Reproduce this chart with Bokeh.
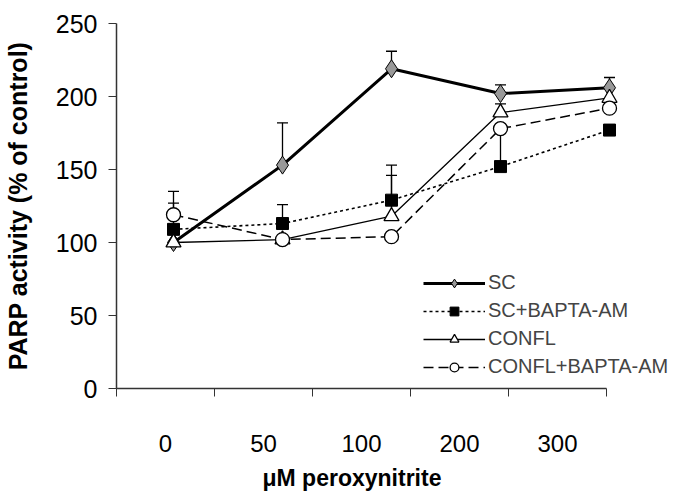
from bokeh.plotting import figure
from bokeh.models import (Range1d, FixedTicker, SingleIntervalTicker, ColumnDataSource,
                          Whisker, TeeHead, Legend, LegendItem, Title)
from bokeh.embed import file_html
from bokeh.resources import INLINE

# ---- data ----
doses = ["0", "50", "100", "200", "300"]
sc = [100, 153, 219, 202, 206]
sc_err = [0, 29, 12, 6, 7]
scb = [109, 113, 129, 152, 177]
scb_err = [18, 13, 24, 27, 0]
confl = [100, 102, 118, 189, 199]
confl_err = [0, 0, 28, 6, 0]
conflb = [119, 102, 104, 178, 192]
conflb_err = [16, 0, 0, 0, 3]

FONT = "Liberation Sans"

W, H = 685, 498
BL, BR, BT, BB = 116, 7, 23, 108
frame_w = W - BL - BR
CAT_PX = 98.0   # pixel width of one axis category
PT_PX = 109.0   # pixel spacing of the plotted points
PT0 = -57.0 / PT_PX  # offset of first point from the frame's left edge

p = figure(width=W, height=H, output_backend="svg", toolbar_location=None,
           x_range=Range1d(0, frame_w / CAT_PX), y_range=Range1d(0, 250),
           min_border_left=BL, min_border_right=BR, min_border_top=BT,
           min_border_bottom=BB)
p.extra_x_ranges = {"pts": Range1d(PT0, PT0 + frame_w / PT_PX)}
p.outline_line_color = None
p.xgrid.visible = False
p.ygrid.visible = False

xs = list(range(len(doses)))

series = [
    ("SC", sc, sc_err, dict(line_width=3, line_dash="solid"),
     dict(marker="diamond", size=18, fill_color="#999999", line_color="black", line_width=1)),
    ("SC+BAPTA-AM", scb, scb_err, dict(line_width=1.6, line_dash="3 3"),
     dict(marker="square", size=12, fill_color="black", line_color="black", line_width=1)),
    ("CONFL", confl, confl_err, dict(line_width=1.3, line_dash="solid"),
     dict(marker="triangle", size=15, fill_color="white", line_color="black", line_width=1.3)),
    ("CONFL+BAPTA-AM", conflb, conflb_err, dict(line_width=1.5, line_dash="10 5"),
     dict(marker="circle", size=14, fill_color="white", line_color="black", line_width=1.3)),
]

# error bars (upper only)
for name, ys, errs, lk, mk in series:
    bx = [x for x, e in zip(xs, errs) if e > 0]
    by = [y for y, e in zip(ys, errs) if e > 0]
    bu = [y + e for y, e in zip(ys, errs) if e > 0]
    src = ColumnDataSource(dict(x=bx, lower=by, upper=bu))
    w = Whisker(base="x", lower="lower", upper="upper", source=src, dimension="height",
                upper_head=TeeHead(size=11, line_width=1.3, line_color="black"),
                lower_head=None, line_width=1.3, line_color="black",
                x_range_name="pts", level="underlay")
    p.add_layout(w)

line_rs = []
for name, ys, errs, lk, mk in series:
    r = p.line(xs, ys, line_color="black", x_range_name="pts", **lk)
    line_rs.append(r)

items = []
for (name, ys, errs, lk, mk), lr in zip(series, line_rs):
    m = p.scatter(xs, ys, x_range_name="pts", **mk)
    items.append(LegendItem(label=name, renderers=[lr, m]))

legend = Legend(items=items, location=(307, 10), border_line_color=None,
                background_fill_alpha=0, padding=0, margin=0, spacing=5,
                glyph_width=62, glyph_height=22, label_height=22, label_standoff=3,
                label_text_font=FONT, label_text_font_size="20px")
p.add_layout(legend)

# x axis
xa = p.xaxis[0]
xa.bounds = (0, len(doses))
xa.ticker = FixedTicker(ticks=[i + 0.5 for i in range(len(doses))],
                        minor_ticks=list(range(len(doses) + 1)))
xa.major_label_overrides = {i + 0.5: d for i, d in enumerate(doses)}
xa.major_tick_out = 0
xa.major_tick_in = 0
xa.minor_tick_out = 8
xa.minor_tick_in = 0
xa.minor_tick_line_color = "#333333"
xa.axis_line_color = "#333333"
xa.axis_line_width = 1.5
xa.major_label_standoff = 38
xa.major_label_text_font = FONT
xa.major_label_text_font_size = "24px"
xa.major_label_text_color = "black"

# x axis title, centred under the axis itself (not the wider frame)
xt = Title(text="\u03bcM peroxynitrite", align="left", offset=146, standoff=16,
           text_font=FONT, text_font_style="bold", text_font_size="23px",
           text_color="black")
p.add_layout(xt, "below")

# y axis
ya = p.yaxis[0]
ya.ticker = SingleIntervalTicker(interval=50, num_minor_ticks=0)
ya.major_tick_out = 8
ya.major_tick_in = 0
ya.minor_tick_out = 0
ya.major_tick_line_color = "#333333"
ya.axis_line_color = "#333333"
ya.axis_line_width = 1.5
ya.major_label_standoff = 11
ya.major_label_text_font = FONT
ya.major_label_text_font_size = "25px"
ya.major_label_text_color = "black"
ya.axis_label = "PARP activity (% of control)"
ya.axis_label_text_font = FONT
ya.axis_label_text_font_style = "bold"
ya.axis_label_text_font_size = "25px"
ya.axis_label_text_color = "black"
ya.axis_label_standoff = 21

open("out.html", "w").write(file_html(p, INLINE))
